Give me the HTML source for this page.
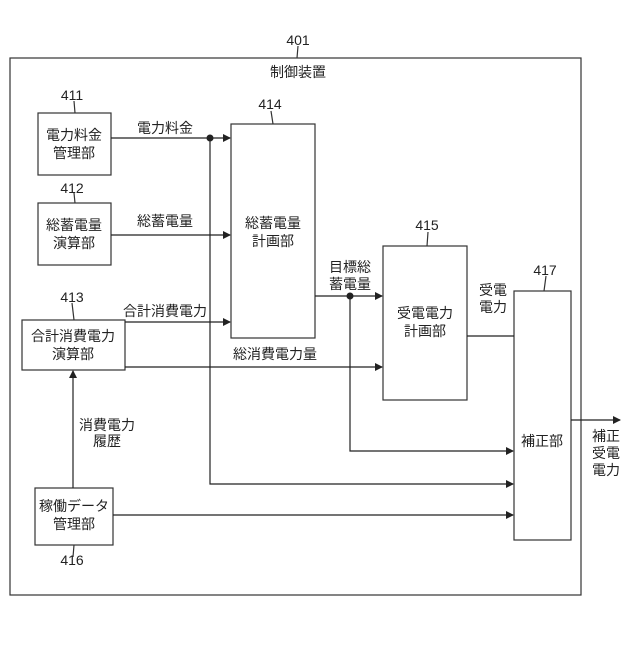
<!DOCTYPE html>
<html><head><meta charset="utf-8"><style>
body{margin:0;background:#fff}
text{font-family:"Liberation Sans","Noto Sans CJK JP",sans-serif;font-size:14px;fill:#222}
</style></head><body>
<svg width="640" height="640" viewBox="0 0 640 640" xmlns="http://www.w3.org/2000/svg">
<defs><marker id="a" markerWidth="8" markerHeight="8" refX="7" refY="4" orient="auto" markerUnits="userSpaceOnUse"><path d="M0,0 L8,4 L0,8 z" fill="#222"/></marker></defs>
<g fill="none" stroke="#333" stroke-width="1.2">
<rect x="10" y="58" width="571" height="537"/>
<rect x="38" y="113" width="73" height="62"/>
<rect x="38" y="203" width="73" height="62"/>
<rect x="22" y="320" width="103" height="50"/>
<rect x="35" y="488" width="78" height="57"/>
<rect x="231" y="124" width="84" height="214"/>
<rect x="383" y="246" width="84" height="154"/>
<rect x="514" y="291" width="57" height="249"/>
<path d="M298,46 L297,58 M74,101 L75,113 M74,193 L75,203 M72,303 L74,320 M74,545 L73,557 M271,111 L273,124 M428,232 L427,246 M546,276 L544,291"/>
</g>
<g stroke="#222" stroke-width="1.2" fill="none" marker-end="url(#a)">
<path d="M111,138 L230,138"/>
<path d="M210,138 L210,484 L513,484"/>
<path d="M111,235 L230,235"/>
<path d="M125,322 L230,322"/>
<path d="M125,367 L382,367"/>
<path d="M315,296 L382,296"/>
<path d="M350,296 L350,451 L513,451"/>
<path d="M113,515 L513,515"/>
<path d="M73,488 L73,371"/>
<path d="M571,420 L620,420"/>
</g>
<path d="M467,336 L514,336" stroke="#222" stroke-width="1.2"/>
<circle cx="210" cy="138" r="3.5" fill="#222"/>
<circle cx="350" cy="296" r="3.5" fill="#222"/>
<g text-anchor="middle">
<text x="298" y="45">401</text>
<text x="298" y="77">制御装置</text>
<text x="72" y="100">411</text>
<text x="74" y="140">電力料金</text>
<text x="74" y="158">管理部</text>
<text x="72" y="193">412</text>
<text x="74" y="230">総蓄電量</text>
<text x="74" y="248">演算部</text>
<text x="72" y="302">413</text>
<text x="73" y="341">合計消費電力</text>
<text x="73" y="359">演算部</text>
<text x="72" y="565">416</text>
<text x="74" y="511">稼働データ</text>
<text x="74" y="529">管理部</text>
<text x="270" y="109">414</text>
<text x="273" y="228">総蓄電量</text>
<text x="273" y="246">計画部</text>
<text x="427" y="230">415</text>
<text x="425" y="318">受電電力</text>
<text x="425" y="336">計画部</text>
<text x="545" y="275">417</text>
<text x="542" y="446">補正部</text>
<text x="165" y="133">電力料金</text>
<text x="165" y="226">総蓄電量</text>
<text x="165" y="316">合計消費電力</text>
<text x="275" y="359">総消費電力量</text>
<text x="350" y="272">目標総</text>
<text x="350" y="289">蓄電量</text>
<text x="493" y="295">受電</text>
<text x="493" y="312">電力</text>
<text x="107" y="430">消費電力</text>
<text x="107" y="446">履歴</text>
<text x="606" y="441">補正</text>
<text x="606" y="458">受電</text>
<text x="606" y="475">電力</text>
</g>
</svg>
</body></html>
